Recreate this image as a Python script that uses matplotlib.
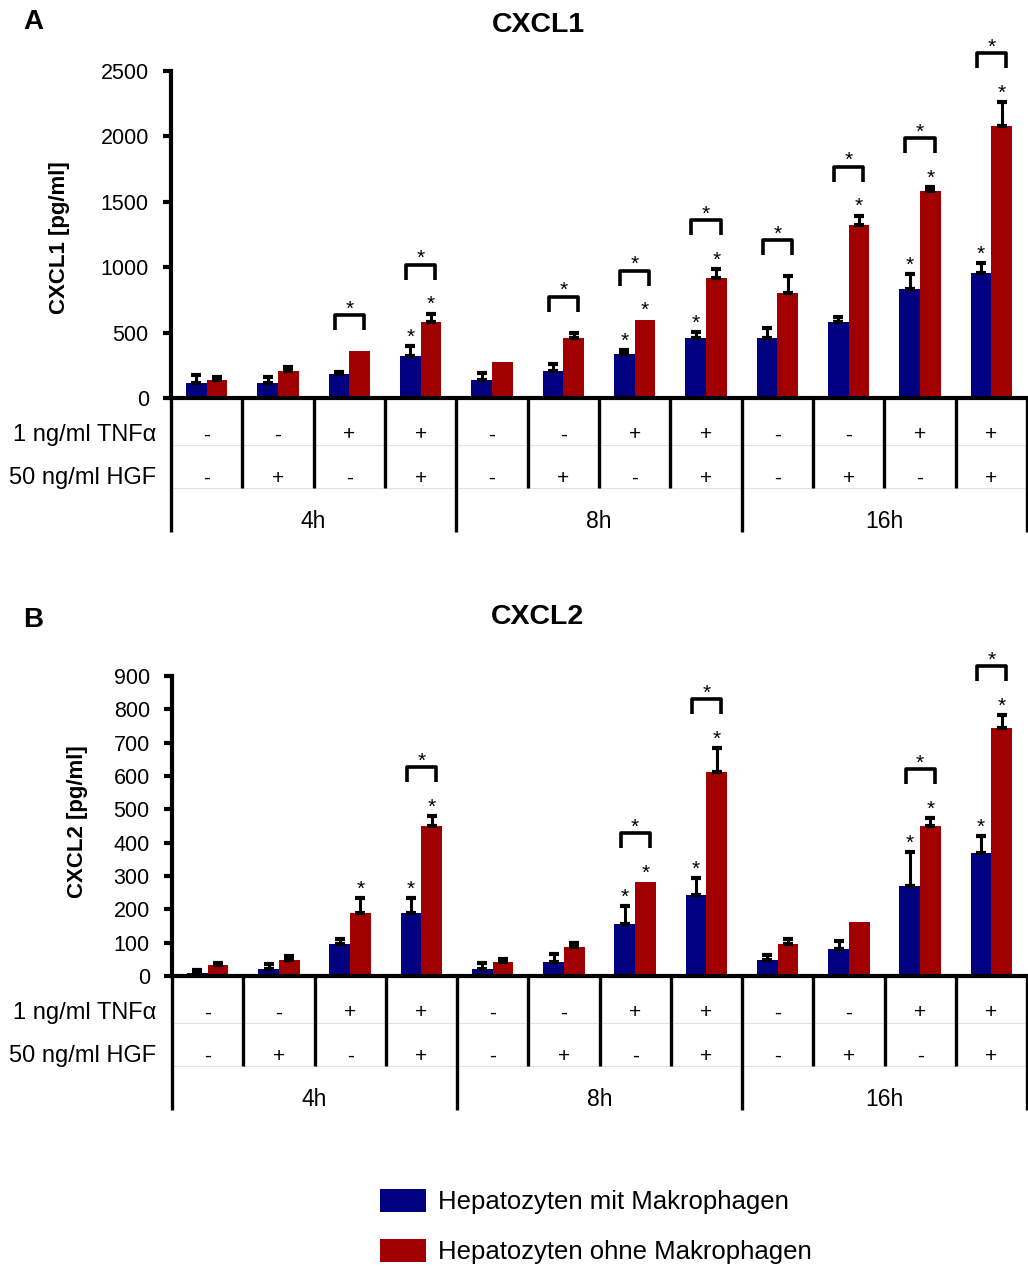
import numpy as np
import matplotlib
matplotlib.use("Agg")
import matplotlib.pyplot as plt
import matplotlib.transforms as mtrans
from matplotlib.patches import Patch

plt.rcParams['font.family'] = ['Liberation Sans', 'DejaVu Sans']

W, H = 1028, 1269

# treatment table (per group): TNFa / HGF, three timepoints of four groups
tnf = ['-', '-', '+', '+'] * 3
hgf = ['-', '+', '-', '+'] * 3
timepoints = ['4h', '8h', '16h']
series_names = ['Hepatozyten mit Makrophagen', 'Hepatozyten ohne Makrophagen']

# CXCL1 [pg/ml]
cxcl1_mit = [115, 115, 185, 320, 140, 205, 335, 460, 460, 580, 830, 955]
cxcl1_mit_err = [60, 45, 15, 75, 50, 55, 30, 45, 75, 40, 115, 75]
cxcl1_ohne = [140, 210, 360, 580, 275, 455, 600, 915, 800, 1325, 1580, 2080]
cxcl1_ohne_err = [20, 25, 0, 65, 0, 45, 0, 70, 130, 70, 35, 180]
cxcl1_star_mit = [3, 6, 7, 10, 11]
cxcl1_star_ohne = [3, 6, 7, 9, 10, 11]
cxcl1_brackets = [2, 3, 5, 6, 7, 8, 9, 10, 11]

# CXCL2 [pg/ml]
cxcl2_mit = [10, 20, 96, 188, 20, 42, 157, 243, 49, 82, 271, 368]
cxcl2_mit_err = [8, 15, 14, 47, 20, 24, 53, 52, 13, 23, 101, 52]
cxcl2_ohne = [32, 48, 188, 449, 42, 86, 282, 612, 97, 163, 450, 743]
cxcl2_ohne_err = [8, 13, 47, 31, 8, 12, 0, 73, 15, 0, 25, 39]
cxcl2_star_mit = [3, 6, 7, 10, 11]
cxcl2_star_ohne = [2, 3, 6, 7, 10, 11]
cxcl2_brackets = [3, 6, 7, 10, 11]

BLUE = '#000080'
RED = '#a00000'
BW = 0.29  # bar width, one group = 1


def px2val(ax, px):
    y0, y1 = ax.get_ylim()
    return px * (y1 - y0) / (ax.get_position().height * H)


def draw_panel(ax, mit, mit_err, ohne, ohne_err, star_mit, star_ohne, brackets, ymax, step):
    x = np.arange(len(mit))
    ax.bar(x - BW / 2, mit, BW, color=BLUE, lw=0, zorder=2)
    ax.bar(x + BW / 2, ohne, BW, color=RED, lw=0, zorder=2)
    for xs, vals, errs in [(x - BW / 2, mit, mit_err), (x + BW / 2, ohne, ohne_err)]:
        idx = [i for i in range(len(vals)) if errs[i] > 0]
        ax.errorbar(xs[idx], np.array(vals)[idx],
                    yerr=[np.zeros(len(idx)), np.array(errs)[idx]],
                    fmt='none', ecolor='black', elinewidth=2.2, capsize=3.8,
                    capthick=3, zorder=3)

    ax.set_xlim(-0.5, len(mit) - 0.5)
    ax.set_ylim(0, ymax)
    ax.set_yticks(np.arange(0, ymax + 1, step))
    ax.set_xticks([])
    for s in ['top', 'right']:
        ax.spines[s].set_visible(False)
    ax.spines['left'].set_linewidth(3)
    ax.spines['bottom'].set_linewidth(3)
    ax.tick_params(axis='y', direction='out', length=6, width=3, pad=10, labelsize=15.5)

    star_gap = px2val(ax, 13)
    star_kw = dict(ha='center', va='center', fontsize=15, textcoords='offset points',
                   annotation_clip=False)
    for i in star_mit:
        ax.annotate('*', (x[i] - BW / 2, mit[i] + mit_err[i] + star_gap), xytext=(0, -3), **star_kw)
    for i in star_ohne:
        ax.annotate('*', (x[i] + BW / 2, ohne[i] + ohne_err[i] + star_gap), xytext=(0, -3), **star_kw)

    # brackets between the two bars of a group
    bh = px2val(ax, 15)
    for i in brackets:
        top_m = mit[i] + mit_err[i] + (star_gap if i in star_mit else 0)
        top_o = ohne[i] + ohne_err[i] + (star_gap if i in star_ohne else 0)
        yb = max(top_m, top_o) + px2val(ax, 21)
        hw = 0.205
        ax.plot([i - hw, i - hw, i + hw, i + hw], [yb, yb + bh, yb + bh, yb],
                color='black', lw=2.6, solid_joinstyle='round', solid_capstyle='butt',
                clip_on=False)
        ax.annotate('*', (i, yb + bh + px2val(ax, 10)), xytext=(0, -3), **star_kw)


def draw_table(ax, fig):
    h_px = ax.get_position().height * H
    tr = ax.get_xaxis_transform()
    n = len(tnf)

    def yf(px):
        return -px / h_px

    for yy in [47, 90]:
        ax.plot([-0.5, n - 0.5], [yf(yy)] * 2, transform=tr, clip_on=False,
                color='#e2e2e2', lw=0.8, zorder=1)
    for k in range(n + 1):
        depth = 134 if k % 4 == 0 else 90
        ax.plot([k - 0.5, k - 0.5], [0, yf(depth)], transform=tr, clip_on=False,
                color='black', lw=2.4, solid_capstyle='butt')
    for i in range(n):
        ax.text(i, yf(37), tnf[i], transform=tr, ha='center', va='center', fontsize=15)
        ax.text(i, yf(80), hgf[i], transform=tr, ha='center', va='center', fontsize=15)
    for j, tp in enumerate(timepoints):
        ax.text(4 * j + 1.5, yf(123), tp, transform=tr, ha='center', va='center', fontsize=16.5)

    bt = mtrans.blended_transform_factory(fig.transFigure, ax.transAxes)
    ax.text(156 / W, yf(37), '1 ng/ml TNF\u03b1', transform=bt, ha='right', va='center', fontsize=17)
    ax.text(156 / W, yf(80), '50 ng/ml HGF', transform=bt, ha='right', va='center', fontsize=17)


fig = plt.figure(figsize=(W / 100, H / 100), dpi=100)
ax1 = fig.add_axes([171 / W, 1 - 398 / H, 856 / W, 327 / H])
ax2 = fig.add_axes([172 / W, 1 - 976 / H, 855 / W, 300 / H])

draw_panel(ax1, cxcl1_mit, cxcl1_mit_err, cxcl1_ohne, cxcl1_ohne_err,
           cxcl1_star_mit, cxcl1_star_ohne, cxcl1_brackets, 2500, 500)
draw_panel(ax2, cxcl2_mit, cxcl2_mit_err, cxcl2_ohne, cxcl2_ohne_err,
           cxcl2_star_mit, cxcl2_star_ohne, cxcl2_brackets, 900, 100)
draw_table(ax1, fig)
draw_table(ax2, fig)

fig.text(538 / W, 1 - 25 / H, 'CXCL1', ha='center', va='center', fontsize=20.5, fontweight='bold')
fig.text(538 / W, 1 - 617 / H, 'CXCL2', ha='center', va='center', fontsize=20.5, fontweight='bold')
fig.text(33 / W, 1 - 22 / H, 'A', ha='center', va='center', fontsize=20, fontweight='bold')
fig.text(33 / W, 1 - 620 / H, 'B', ha='center', va='center', fontsize=20, fontweight='bold')
fig.text(60 / W, 1 - 238 / H, 'CXCL1 [pg/ml]', rotation=90, ha='center', va='center',
         fontsize=16, fontweight='bold')
fig.text(78 / W, 1 - 822 / H, 'CXCL2 [pg/ml]', rotation=90, ha='center', va='center',
         fontsize=16, fontweight='bold')

handles = [Patch(facecolor=BLUE, edgecolor='none'), Patch(facecolor=RED, edgecolor='none')]
fig.legend(handles, series_names, loc='upper left', bbox_to_anchor=(367 / W, 1 - 1176 / H),
           frameon=False, fontsize=18.5, handlelength=1.8, handleheight=1.0,
           handletextpad=0.45, labelspacing=0.95, borderpad=0)

fig.savefig('out.png', dpi=100)
